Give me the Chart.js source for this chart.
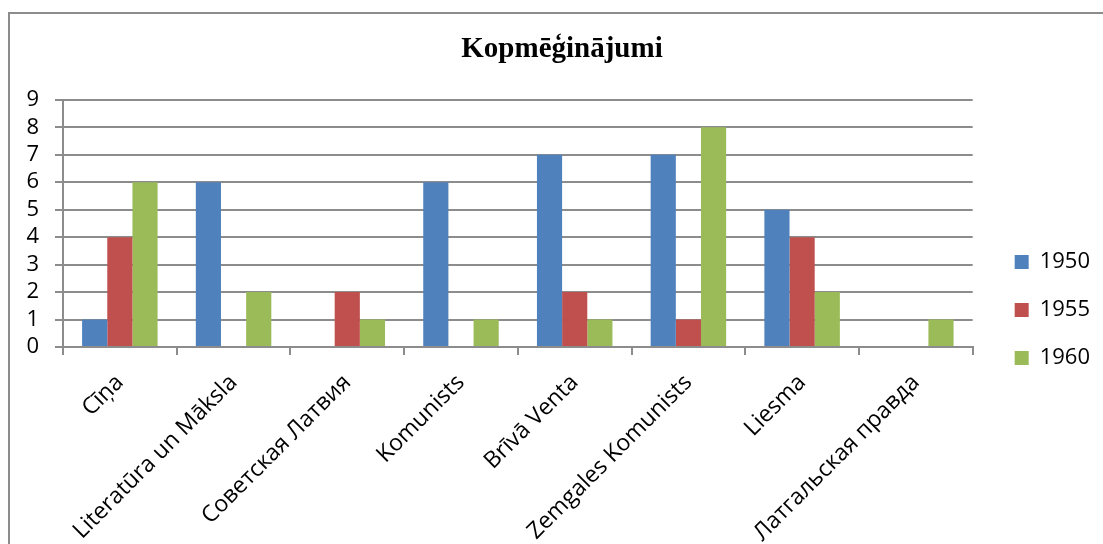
<!DOCTYPE html>
<html>
<head>
<meta charset="utf-8">
<script src="https://cdn.jsdelivr.net/npm/chart.js@4/dist/chart.umd.min.js"></script>
<style>
html, body { margin: 0; padding: 0; background: #fff; overflow: hidden; width: 1103px; height: 544px; }
#wrap { position: absolute; left: 0; top: 0; width: 1100px; height: 620px; }
#frame { position: absolute; left: 8px; top: 12px; width: 1300px; height: 800px; border: 2px solid #8c8c8c; box-sizing: border-box; pointer-events: none; }
</style>
</head>
<body>
<div id="wrap"><canvas id="c" width="1100" height="620"></canvas></div>
<div id="frame"></div>
<script>
const categories = ['Cīņa', 'Literatūra un Māksla', 'Советская Латвия', 'Komunists', 'Brīvā Venta', 'Zemgales Komunists', 'Liesma', 'Латгальская правда'];
const seriesNames = ['1950', '1955', '1960'];
const values1950 = [1, 6, 0, 6, 7, 7, 5, 0];
const values1955 = [4, 0, 2, 0, 2, 1, 4, 0];
const values1960 = [6, 2, 1, 1, 1, 8, 2, 1];
const yMin = 0, yMax = 9, yStep = 1;
const chartTitle = 'Kopmēģinājumi';

const colors = ['#4F81BD', '#C0504D', '#9BBB59'];
const gridColor = '#8c8c8c';
const tickFont = { family: 'Open Sans', size: 22 };
const xTickFont = { family: 'Open Sans', size: 23 };

const seriesValues = [values1950, values1955, values1960];

new Chart(document.getElementById('c'), {
  type: 'bar',
  data: {
    labels: categories,
    datasets: seriesNames.map((name, i) => ({
      label: name,
      data: seriesValues[i],
      backgroundColor: colors[i],
      borderWidth: 0,
      barPercentage: 1,
      categoryPercentage: 0.664
    }))
  },
  options: {
    responsive: false,
    animation: false,
    devicePixelRatio: 1,
    layout: { padding: { left: 24, right: 0, top: 0, bottom: 0 } },
    plugins: {
      title: {
        display: true,
        text: chartTitle,
        color: '#000',
        font: { family: 'Liberation Serif', size: 29, weight: 'bold' },
        padding: { top: 32, bottom: 33 }
      },
      legend: {
        position: 'right',
        labels: {
          boxWidth: 14,
          boxHeight: 14,
          padding: 26,
          color: '#000',
          font: tickFont
        }
      },
      tooltip: { enabled: false }
    },
    scales: {
      x: {
        grid: { drawOnChartArea: false, drawTicks: true, tickLength: 8, offset: true, color: gridColor, lineWidth: 2 },
        border: { display: true, color: gridColor, width: 2 },
        ticks: { minRotation: 45, maxRotation: 45, autoSkip: false, color: '#000', font: xTickFont, padding: 14 },
        afterFit: s => { s.height = 273; }
      },
      y: {
        min: yMin,
        max: yMax,
        ticks: { stepSize: yStep, autoSkip: false, color: '#000', font: tickFont, padding: 16 },
        grid: { color: gridColor, lineWidth: 2, tickLength: 8 },
        border: { display: true, color: gridColor, width: 2 },
        afterFit: s => { s.width = 39; }
      },
      y2: {
        position: 'right',
        display: true,
        grid: { display: false },
        ticks: { display: false },
        border: { display: false },
        afterFit: s => { s.width = 16; }
      }
    }
  }
});
</script>
</body>
</html>
